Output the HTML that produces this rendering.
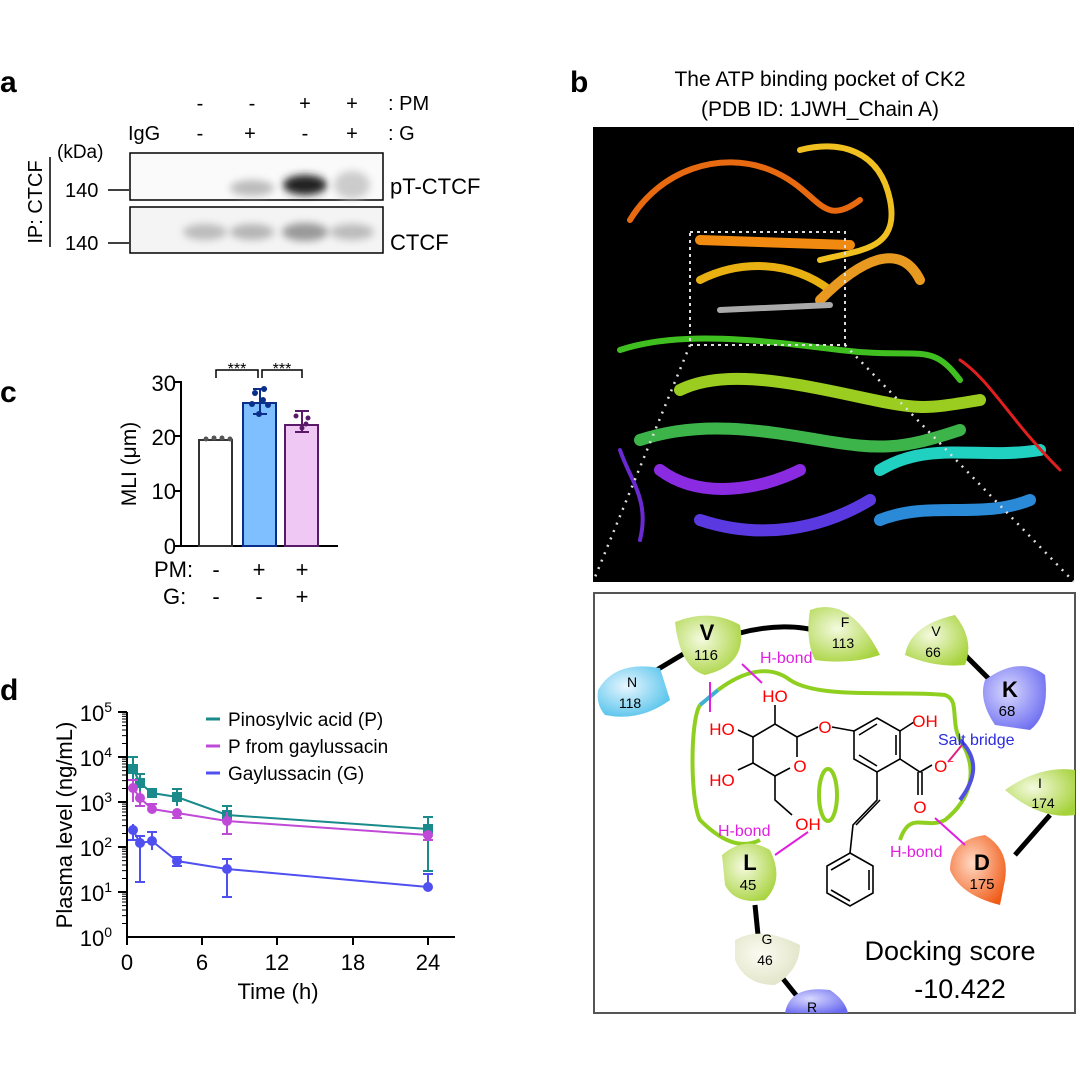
<!DOCTYPE html>
<html><head><meta charset="utf-8"><style>
html,body{margin:0;padding:0;background:#fff}
svg{display:block;font-family:"Liberation Sans",Arial,sans-serif}
</style></head><body>
<svg width="1080" height="1080" viewBox="0 0 1080 1080" xmlns="http://www.w3.org/2000/svg">
<defs>
<radialGradient id="gG" cx="0.4" cy="0.4" r="0.7"><stop offset="0" stop-color="#f4fadf"/><stop offset="1" stop-color="#a6d23a"/></radialGradient>
<radialGradient id="gB" cx="0.4" cy="0.4" r="0.7"><stop offset="0" stop-color="#e8f6ff"/><stop offset="1" stop-color="#4cc0ea"/></radialGradient>
<radialGradient id="gK" cx="0.4" cy="0.4" r="0.7"><stop offset="0" stop-color="#d8d8ff"/><stop offset="1" stop-color="#6a6af0"/></radialGradient>
<radialGradient id="gD" cx="0.4" cy="0.4" r="0.7"><stop offset="0" stop-color="#ffd9c4"/><stop offset="1" stop-color="#f05a16"/></radialGradient>
<radialGradient id="gW" cx="0.4" cy="0.4" r="0.7"><stop offset="0" stop-color="#fbfbf2"/><stop offset="1" stop-color="#dfe3c4"/></radialGradient>
<filter id="bl"><feGaussianBlur stdDeviation="4"/></filter>
</defs>

<!-- ===== Panel a ===== -->
<text x="0" y="92" font-size="30" font-weight="bold">a</text>
<g font-size="20" text-anchor="middle">
<text x="200" y="110">-</text><text x="252" y="110">-</text><text x="305" y="110">+</text><text x="352" y="110">+</text>
<text x="200" y="140">-</text><text x="250" y="140">+</text><text x="305" y="140">-</text><text x="352" y="140">+</text>
</g>
<text x="388" y="110" font-size="20">: PM</text>
<text x="388" y="140" font-size="20">: G</text>
<text x="128" y="140" font-size="20">IgG</text>
<text x="57" y="158" font-size="19">(kDa)</text>
<text x="65" y="197" font-size="20">140</text>
<text x="65" y="250" font-size="20">140</text>
<line x1="108" y1="190" x2="129" y2="190" stroke="#000" stroke-width="1.5"/>
<line x1="108" y1="243" x2="129" y2="243" stroke="#000" stroke-width="1.5"/>
<line x1="50" y1="157" x2="50" y2="247" stroke="#000" stroke-width="1.5"/>
<text transform="translate(42,202) rotate(-90)" font-size="20" text-anchor="middle">IP: CTCF</text>
<rect x="130" y="153" width="253" height="47" fill="#fafafa" stroke="#000" stroke-width="1.5"/>
<rect x="130" y="207" width="253" height="46" fill="#f4f4f4" stroke="#000" stroke-width="1.5"/>
<g filter="url(#bl)">
<ellipse cx="252" cy="188" rx="22" ry="8" fill="#bbb"/>
<ellipse cx="305" cy="185" rx="22" ry="10" fill="#222"/>
<ellipse cx="352" cy="185" rx="18" ry="14" fill="#ccc"/>
<ellipse cx="205" cy="232" rx="22" ry="8" fill="#bbb"/>
<ellipse cx="252" cy="232" rx="22" ry="8" fill="#b5b5b5"/>
<ellipse cx="305" cy="232" rx="23" ry="9" fill="#999"/>
<ellipse cx="352" cy="232" rx="22" ry="8" fill="#bbb"/>
</g>
<text x="390" y="194" font-size="22">pT-CTCF</text>
<text x="390" y="250" font-size="22">CTCF</text>

<!-- ===== Panel c ===== -->
<text x="0" y="402" font-size="30" font-weight="bold">c</text>
<g stroke="#000" stroke-width="2" fill="none">
<line x1="181" y1="381" x2="181" y2="546"/>
<line x1="175" y1="546" x2="338" y2="546"/>
<line x1="174" y1="382" x2="181" y2="382"/><line x1="174" y1="436" x2="181" y2="436"/>
<line x1="174" y1="491" x2="181" y2="491"/>
</g>
<g font-size="22" text-anchor="end"><text x="176" y="391">30</text><text x="176" y="445">20</text><text x="176" y="499">10</text><text x="176" y="554">0</text></g>
<text transform="translate(136,464) rotate(-90)" font-size="21" text-anchor="middle">MLI (μm)</text>
<rect x="199" y="440" width="33" height="106" fill="#fff" stroke="#333" stroke-width="2"/>
<rect x="243" y="403" width="33" height="143" fill="#80bfff" stroke="#0a2f8a" stroke-width="2"/>
<rect x="285" y="425" width="33" height="121" fill="#f0c8f4" stroke="#5a1a6a" stroke-width="2"/>
<g fill="#555"><circle cx="206" cy="439" r="2.5"/><circle cx="214" cy="438" r="2.5"/><circle cx="222" cy="438" r="2.5"/><circle cx="230" cy="439" r="2.5"/></g>
<g stroke="#0a2f8a" stroke-width="2"><line x1="260" y1="389" x2="260" y2="414"/><line x1="253" y1="389" x2="267" y2="389"/><line x1="253" y1="414" x2="267" y2="414"/></g>
<g fill="#0a2f8a"><circle cx="255" cy="393" r="3"/><circle cx="264" cy="389" r="3"/><circle cx="252" cy="404" r="3"/><circle cx="268" cy="405" r="3"/><circle cx="259" cy="414" r="3"/><circle cx="263" cy="400" r="3"/></g>
<g stroke="#5a1a6a" stroke-width="2"><line x1="302" y1="411" x2="302" y2="432"/><line x1="295" y1="411" x2="309" y2="411"/><line x1="295" y1="432" x2="309" y2="432"/></g>
<g fill="#5a1a6a"><circle cx="296" cy="416" r="2.5"/><circle cx="308" cy="418" r="2.5"/><circle cx="302" cy="428" r="2.5"/><circle cx="306" cy="424" r="2.5"/></g>
<g stroke="#000" stroke-width="1.5" fill="none">
<polyline points="216,378 216,370 258,370 258,378"/>
<polyline points="262,378 262,370 302,370 302,378"/>
</g>
<g font-size="16" text-anchor="middle"><text x="237" y="374">***</text><text x="282" y="374">***</text></g>
<g font-size="22"><text x="154" y="577">PM:</text><text x="163" y="604">G:</text></g>
<g font-size="22" text-anchor="middle">
<text x="216" y="577">-</text><text x="259" y="577">+</text><text x="302" y="577">+</text>
<text x="216" y="604">-</text><text x="259" y="604">-</text><text x="302" y="604">+</text>
</g>

<!-- ===== Panel d ===== -->
<text x="0" y="700" font-size="30" font-weight="bold">d</text>
<g stroke="#000" stroke-width="2" fill="none">
<line x1="127" y1="712" x2="127" y2="937"/>
<line x1="126" y1="937" x2="455" y2="937"/>
<line x1="127" y1="937" x2="127" y2="945"/><line x1="202" y1="937" x2="202" y2="945"/><line x1="277" y1="937" x2="277" y2="945"/><line x1="353" y1="937" x2="353" y2="945"/><line x1="428" y1="937" x2="428" y2="945"/>
<line x1="118" y1="712" x2="127" y2="712"/><line x1="118" y1="757" x2="127" y2="757"/><line x1="118" y1="802" x2="127" y2="802"/><line x1="118" y1="847" x2="127" y2="847"/><line x1="118" y1="892" x2="127" y2="892"/>
</g>
<g stroke="#000" stroke-width="1">
<path d="M122 743.5h5M122 735.6h5M122 730h5M122 725.6h5M122 722h5M122 719h5M122 716.4h5M122 714.1h5
M122 788.5h5M122 780.6h5M122 775h5M122 770.6h5M122 767h5M122 764h5M122 761.4h5M122 759.1h5
M122 833.5h5M122 825.6h5M122 820h5M122 815.6h5M122 812h5M122 809h5M122 806.4h5M122 804.1h5
M122 878.5h5M122 870.6h5M122 865h5M122 860.6h5M122 857h5M122 854h5M122 851.4h5M122 849.1h5
M122 923.5h5M122 915.6h5M122 910h5M122 905.6h5M122 902h5M122 899h5M122 896.4h5M122 894.1h5"/>
</g>
<g font-size="22" text-anchor="end">
<text x="112" y="721">10<tspan font-size="14" dy="-9">5</tspan></text>
<text x="112" y="766">10<tspan font-size="14" dy="-9">4</tspan></text>
<text x="112" y="811">10<tspan font-size="14" dy="-9">3</tspan></text>
<text x="112" y="856">10<tspan font-size="14" dy="-9">2</tspan></text>
<text x="112" y="901">10<tspan font-size="14" dy="-9">1</tspan></text>
<text x="112" y="946">10<tspan font-size="14" dy="-9">0</tspan></text>
</g>
<g font-size="22" text-anchor="middle"><text x="127" y="970">0</text><text x="202" y="970">6</text><text x="277" y="970">12</text><text x="353" y="970">18</text><text x="428" y="970">24</text></g>
<text x="278" y="999" font-size="22" text-anchor="middle">Time (h)</text>
<text transform="translate(72,825) rotate(-90)" font-size="22" text-anchor="middle">Plasma level (ng/mL)</text>
<g stroke-width="3"><line x1="206" y1="719" x2="220" y2="719" stroke="#1a8a8a"/><line x1="206" y1="746" x2="220" y2="746" stroke="#c04ad8"/><line x1="206" y1="773" x2="220" y2="773" stroke="#5050f0"/></g>
<g font-size="19"><text x="228" y="726">Pinosylvic acid (P)</text><text x="228" y="753">P from gaylussacin</text><text x="228" y="780">Gaylussacin (G)</text></g>
<g stroke="#1a8a8a" stroke-width="2" fill="none">
<polyline points="133,769 140,783 152,793 177,797 227,815 428,829"/>
<path d="M133,757V793M128,757h10M140,774V795M135,774h10M152,791V798M147,791h10M177,789V806M172,789h10M227,806V829M222,806h10M428,817V871M423,817h10M423,871h10"/>
</g>
<g fill="#1a8a8a"><rect x="128" y="764" width="10" height="10"/><rect x="135" y="778" width="10" height="10"/><rect x="147" y="788" width="10" height="10"/><rect x="172" y="792" width="10" height="10"/><rect x="222" y="810" width="10" height="10"/><rect x="423" y="824" width="10" height="10"/></g>
<g stroke="#c04ad8" stroke-width="2" fill="none">
<polyline points="133,788 140,798 152,809 177,813 227,821 428,835"/>
<path d="M133,780V802M128,780h10M140,791V806M135,806h10M152,804V813M147,804h10M177,810V818M172,818h10M227,812V834M222,834h10M428,832V840M423,840h10"/>
</g>
<g fill="#c04ad8"><circle cx="133" cy="788" r="5"/><circle cx="140" cy="798" r="5"/><circle cx="152" cy="809" r="5"/><circle cx="177" cy="813" r="5"/><circle cx="227" cy="821" r="5"/><circle cx="428" cy="835" r="5"/></g>
<g stroke="#5050f0" stroke-width="2" fill="none">
<polyline points="133,830 140,843 152,841 177,861 227,869 428,887"/>
<path d="M133,824V840M128,840h10M140,836V882M135,882h10M135,836h10M152,832V850M147,832h10M177,857V866M172,857h10M172,866h10M227,859V897M222,859h10M222,897h10M428,874V887M423,874h10"/>
</g>
<g fill="#5050f0"><circle cx="133" cy="830" r="5"/><circle cx="140" cy="843" r="5"/><circle cx="152" cy="841" r="5"/><circle cx="177" cy="861" r="5"/><circle cx="227" cy="869" r="5"/><circle cx="428" cy="887" r="5"/></g>

<!-- ===== Panel b ===== -->
<text x="570" y="92" font-size="30" font-weight="bold">b</text>
<text x="820" y="86" font-size="21" text-anchor="middle">The ATP binding pocket of CK2</text>
<text x="820" y="116" font-size="21" text-anchor="middle">(PDB ID: 1JWH_Chain A)</text>
<rect x="593" y="127" width="481" height="455" fill="#000"/>
<g fill="none" stroke-width="6" stroke-linecap="round">
<path d="M630 220 C660 170 720 150 770 170 S820 230 860 200" stroke="#e86a10"/>
<path d="M800 150 C840 140 880 150 890 200 S860 250 820 260" stroke="#f0c020"/>
<path d="M700 240 L850 245" stroke="#f08a10" stroke-width="10"/>
<path d="M700 280 C740 260 790 260 830 290" stroke="#e8b010" stroke-width="8"/>
<path d="M820 300 C860 260 900 240 920 280" stroke="#e89a20" stroke-width="10"/>
<path d="M620 350 C680 330 760 340 840 350 S930 340 960 380" stroke="#40c020"/>
<path d="M680 390 C720 370 780 380 850 395 S920 410 980 400" stroke="#9acd20" stroke-width="12"/>
<path d="M640 440 C700 420 760 430 820 440 S900 450 960 430" stroke="#3cb44a" stroke-width="12"/>
<path d="M660 470 C700 500 760 490 800 470" stroke="#8a2be2" stroke-width="12"/>
<path d="M700 520 C760 540 820 530 870 500" stroke="#5a3ae0" stroke-width="12"/>
<path d="M880 470 C930 440 980 460 1040 450" stroke="#20d0c0" stroke-width="12"/>
<path d="M880 520 C930 500 980 520 1030 500" stroke="#2a8ad8" stroke-width="12"/>
<path d="M960 360 C990 380 1010 420 1060 470" stroke="#e02020" stroke-width="3"/>
<path d="M620 450 C630 480 650 500 640 540" stroke="#6a2ad0" stroke-width="4"/>
<path d="M720 310 L830 305" stroke="#aaa" stroke-width="6"/>
</g>
<rect x="690" y="232" width="155" height="113" fill="none" stroke="#ddd" stroke-width="2" stroke-dasharray="3,4"/>
<line x1="690" y1="345" x2="593" y2="582" stroke="#ddd" stroke-width="2.5" stroke-dasharray="2,6"/>
<line x1="845" y1="345" x2="1074" y2="582" stroke="#ddd" stroke-width="2.5" stroke-dasharray="2,6"/>

<rect x="594" y="593" width="481" height="420" fill="#fff" stroke="#555" stroke-width="2"/>
<g stroke="#000" stroke-width="5" fill="none">
<path d="M640 680 L690 650"/><path d="M740 633 C770 625 800 625 820 632"/>
<path d="M960 650 L990 680"/><path d="M1050 815 L1015 855"/>
<path d="M755 905 L758 935"/><path d="M780 975 L800 1000"/>
</g>
<!-- pocket line -->
<path d="M718 690 C745 670 770 665 790 680 C820 700 900 690 945 695 C960 700 950 720 960 740 C980 770 970 800 945 820 C925 830 910 810 900 840" fill="none" stroke="#8fcf20" stroke-width="4"/>
<path d="M700 705 C690 720 690 800 700 820 C720 840 740 850 760 840" fill="none" stroke="#8fcf20" stroke-width="4"/>
<path d="M700 705 L718 690" stroke="#40b0d0" stroke-width="4"/>
<path d="M960 740 C980 760 975 780 960 800" fill="none" stroke="#5050e0" stroke-width="4"/>
<ellipse cx="828" cy="795" rx="9" ry="26" fill="none" stroke="#8fcf20" stroke-width="4"/>
<!-- residues -->
<g stroke="none">
<path d="M675 622 Q710 608 740 625 Q748 665 705 675 Q680 668 675 622Z" fill="url(#gG)"/>
<path d="M598 690 Q615 660 660 668 L670 700 Q640 722 605 715 Q596 705 598 690Z" fill="url(#gB)"/>
<path d="M810 610 Q850 595 880 655 Q850 665 815 660 Q805 640 810 610Z" fill="url(#gG)"/>
<path d="M905 655 Q910 625 955 615 Q975 640 965 665 Q935 668 905 655Z" fill="url(#gG)"/>
<path d="M985 680 Q1020 655 1045 675 Q1050 715 1030 730 L995 725 Q978 700 985 680Z" fill="url(#gK)"/>
<path d="M1005 790 Q1040 765 1075 770 L1075 815 Q1040 820 1005 790Z" fill="url(#gG)"/>
<path d="M950 870 Q950 840 985 835 Q1010 850 1005 880 L1000 905 Q960 895 950 870Z" fill="url(#gD)"/>
<path d="M722 855 Q745 835 770 850 Q785 880 765 900 Q735 905 725 885Z" fill="url(#gG)"/>
<path d="M735 940 Q760 925 800 945 Q800 970 775 985 Q745 985 735 960Z" fill="url(#gW)"/>
<path d="M785 1013 Q790 985 830 990 Q845 1000 848 1013Z" fill="url(#gK)"/>
</g>
<g text-anchor="middle" font-size="14">
<text x="707" y="640" font-size="22" font-weight="bold">V</text><text x="706" y="660" font-size="15">116</text>
<text x="632" y="687">N</text><text x="630" y="708">118</text>
<text x="845" y="627">F</text><text x="843" y="648">113</text>
<text x="936" y="636">V</text><text x="933" y="657">66</text>
<text x="1010" y="697" font-size="22" font-weight="bold">K</text><text x="1007" y="716" font-size="15">68</text>
<text x="1040" y="788">I</text><text x="1043" y="808">174</text>
<text x="982" y="870" font-size="22" font-weight="bold">D</text><text x="982" y="889" font-size="15">175</text>
<text x="750" y="870" font-size="22" font-weight="bold">L</text><text x="748" y="890" font-size="15">45</text>
<text x="767" y="944">G</text><text x="765" y="965">46</text>
<text x="812" y="1012">R</text>
</g>
<!-- molecule -->
<g stroke="#000" stroke-width="1.6" fill="none">
<path d="M753 737 L775 724 L797 737 L797 757 M775 776 L753 763 Z"/>
<path d="M753 763 L753 737 M775 776 L790 768"/>
<path d="M797 737 L818 727"/>
<path d="M832 727 L854 731"/>
<path d="M877 718 L900 731 L900 759 L877 772 L854 759 L854 731 Z"/>
<path d="M859 735 L877 724 M896 735 L896 755 M859 755 L877 766"/>
<path d="M900 731 L914 722"/>
<path d="M900 759 L920 772 L932 765"/>
<path d="M918 772 L918 795 M922 772 L922 795"/>
<path d="M877 772 L877 800 L853 825 L850 853 M880 800 L856 825"/>
<path d="M850 853 L873 866 L873 893 L850 906 L827 893 L827 866 Z"/>
<path d="M831 870 L850 859 M869 870 L869 890 M831 890 L850 901"/>
<path d="M775 724 L775 705 M753 737 L738 730 M753 763 L738 770 M775 776 L775 800 L792 815"/>
</g>
<g fill="#f00" font-size="17" text-anchor="middle">
<text x="825" y="733">O</text><text x="925" y="727">OH</text><text x="944" y="772">O<tspan font-size="11" dy="-7">−</tspan></text>
<text x="920" y="813">O</text><text x="775" y="702">HO</text><text x="722" y="735">HO</text>
<text x="722" y="786">HO</text><text x="800" y="772">O</text><text x="808" y="830">OH</text>
</g>
<g stroke="#e020e0" stroke-width="2" fill="none">
<line x1="710" y1="712" x2="710" y2="682"/><line x1="762" y1="683" x2="742" y2="664"/>
<line x1="808" y1="832" x2="775" y2="855"/><line x1="965" y1="845" x2="935" y2="818"/>
<line x1="948" y1="762" x2="962" y2="745" stroke="#e02080"/>
</g>
<g fill="#e020e0" font-size="16">
<text x="760" y="663">H-bond</text><text x="718" y="836">H-bond</text><text x="890" y="857">H-bond</text>
</g>
<text x="938" y="745" fill="#2a2ae0" font-size="16">Salt bridge</text>
<text x="950" y="960" font-size="27" text-anchor="middle">Docking score</text>
<text x="960" y="998" font-size="27" text-anchor="middle">-10.422</text>
</svg>
</body></html>
